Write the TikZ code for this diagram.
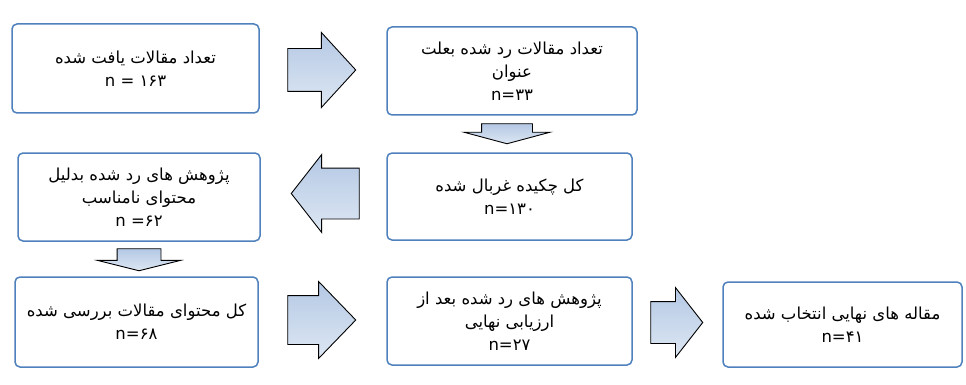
\documentclass[tikz,border=0pt]{standalone}
\usepackage{fontspec}
\usepackage{xcolor}
\usetikzlibrary{shapes.arrows,calc}
\TeXXeTstate=1
\newfontfamily\arabicfont[Script=Arabic]{DejaVu Sans}
\newcommand{\fa}[1]{\beginR #1\endR}
\definecolor{boxblue}{HTML}{4F81BD}
\definecolor{arrowtop}{HTML}{B4C8E4}
\definecolor{arrowbot}{HTML}{DDE7F3}

\begin{document}
\begin{tikzpicture}[x=1pt,y=-1pt,
  box/.style={draw=boxblue, line width=1.5pt, rounded corners=5pt, fill=white, align=center, inner sep=2pt, font=\arabicfont\fontsize{16.5}{23}\selectfont},
  bigarrow/.style={single arrow, anchor=tail, draw=black, line width=0.9pt, top color=arrowtop, bottom color=arrowbot, inner xsep=0pt, outer sep=0pt}]
\useasboundingbox[fill=white] (0,0) rectangle (966,385);
% boxes
\node[box, minimum width=247pt, minimum height=89pt] (Found) at (135.5,68.5) {\fa{تعداد مقالات یافت شده}\\n = \hbox{۱۶۳}};
\node[box, minimum width=250pt, minimum height=88pt] (TitleOut) at (512,71) {\fa{تعداد مقالات رد شده بعلت}\\\fa{عنوان}\\n=\hbox{۳۳}};
\node[box, minimum width=245pt, minimum height=87pt] (Screened) at (509.5,196.5) {\fa{کل چکیده غربال شده}\\n=\hbox{۱۳۰}};
\node[box, minimum width=242pt, minimum height=88pt] (ContentOut) at (139,197) {\fa{پژوهش های رد شده بدلیل}\\\fa{محتوای نامناسب}\\n =\hbox{۶۲}};
\node[box, minimum width=243pt, minimum height=90pt] (Reviewed) at (136.5,322) {\fa{کل محتوای مقالات بررسی شده}\\n=\hbox{۶۸}};
\node[box, minimum width=245pt, minimum height=88pt] (FinalOut) at (509.5,321) {\fa{پژوهش های رد شده بعد از}\\\fa{ارزیابی نهایی}\\n=\hbox{۲۷}};
\node[box, minimum width=239pt, minimum height=85pt] (Selected) at (842.5,324.5) {\fa{مقاله های نهایی انتخاب شده}\\n=\hbox{۴۱}};
% block arrows
\node[bigarrow, minimum height=68pt, minimum width=74pt, inner ysep=21pt, single arrow head extend=16pt, single arrow tip angle=95] (Arrow1) at ($(Found.east)+(28,1.5)$) {};
\node[bigarrow, rotate=-90, minimum height=20pt, minimum width=85pt, inner ysep=25pt, single arrow head extend=17.5pt, single arrow tip angle=150] (Arrow2) at ($(TitleOut.south)+(-5,8)$) {};
\node[bigarrow, rotate=180, minimum height=68pt, minimum width=77pt, inner ysep=25pt, single arrow head extend=13.5pt, single arrow tip angle=104] (Arrow3) at ($(Screened.west)+(-27,-3)$) {};
\node[bigarrow, rotate=-90, minimum height=22pt, minimum width=82pt, inner ysep=21.5pt, single arrow head extend=19.5pt, single arrow tip angle=152] (Arrow4) at ($(ContentOut.south)+(0,7)$) {};
\node[bigarrow, minimum height=68pt, minimum width=76pt, inner ysep=24pt, single arrow head extend=14pt, single arrow tip angle=92] (Arrow5) at ($(Reviewed.east)+(29,-2)$) {};
\node[bigarrow, minimum height=52pt, minimum width=69pt, inner ysep=20.5pt, single arrow head extend=14pt, single arrow tip angle=104] (Arrow6) at ($(FinalOut.east)+(18,1.5)$) {};
\end{tikzpicture}
\end{document}
